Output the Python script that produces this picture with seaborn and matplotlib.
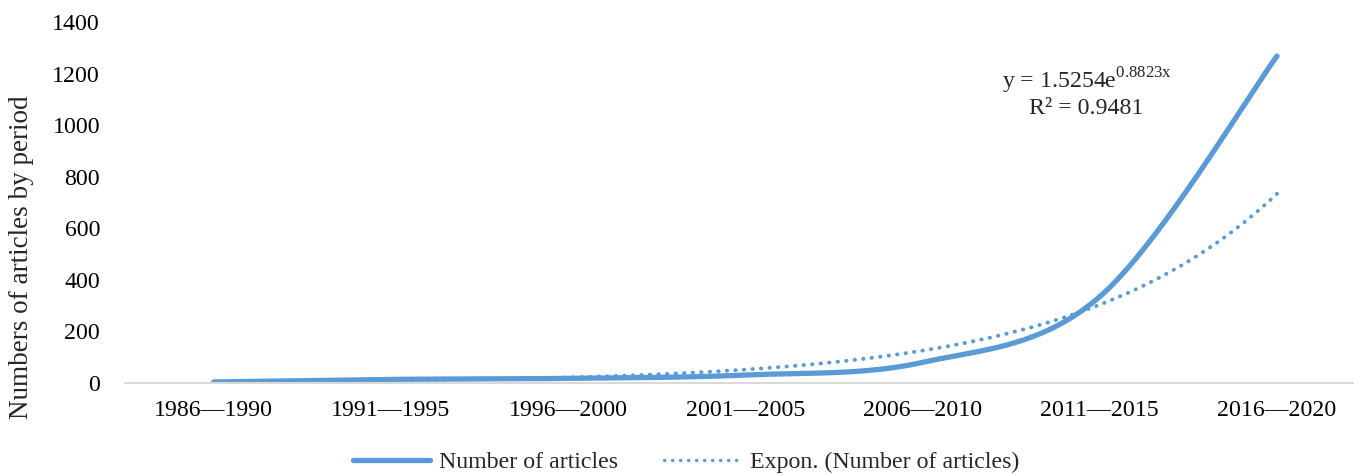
import numpy as np
import pandas as pd
import seaborn as sns
from matplotlib import pyplot as plt
from matplotlib.lines import Line2D

# values
periods = ["1986—1990", "1991—1995", "1996—2000", "2001—2005",
           "2006—2010", "2011—2015", "2016—2020"]
articles = [4, 14, 18, 31, 80, 335, 1268]

# exponential trendline as printed on the chart: y = a * e^(b x)
trend_a = 1.5254
trend_b = 0.8823
trend_r2 = 0.9481

BLUE = "#5B9BD5"
FONT = ["Liberation Serif", "DejaVu Serif"]
FS = 17.2

sns.set_style("white")
plt.rcParams["font.family"] = FONT
plt.rcParams["mathtext.fontset"] = "custom"
plt.rcParams["mathtext.rm"] = "Liberation Serif"


def smooth_path(xs, ys, steps=40):
    # Catmull-Rom style smoothing, similar to a spreadsheet "smoothed line"
    xs = np.asarray(xs, float)
    ys = np.asarray(ys, float)
    px = np.concatenate([[xs[0]], xs, [xs[-1]]])
    py = np.concatenate([[ys[0]], ys, [ys[-1]]])
    out_x, out_y = [], []
    for i in range(1, len(px) - 2):
        p0, p1, p2, p3 = (np.array([px[j], py[j]]) for j in (i - 1, i, i + 1, i + 2))
        c1 = p1 + (p2 - p0) / 6
        c2 = p2 - (p3 - p1) / 6
        t = np.linspace(0, 1, steps, endpoint=(i == len(px) - 3))[:, None]
        pts = ((1 - t) ** 3) * p1 + 3 * ((1 - t) ** 2) * t * c1 + 3 * (1 - t) * t ** 2 * c2 + t ** 3 * p2
        out_x.extend(pts[:, 0])
        out_y.extend(pts[:, 1])
    return np.array(out_x), np.array(out_y)


pos = np.arange(len(periods))
sx, sy = smooth_path(pos, articles)
df_line = pd.DataFrame({"pos": sx, "val": sy})

tx = np.linspace(0, len(periods) - 1, 200)
df_trend = pd.DataFrame({"pos": tx, "val": trend_a * np.exp(trend_b * (tx + 1))})

fig = plt.figure(figsize=(13.54, 4.75), dpi=100)
ax = fig.add_axes([125 / 1354, 1 - 383 / 475, 1229 / 1354, 361 / 475])

sns.lineplot(data=df_trend, x="pos", y="val", ax=ax, color=BLUE, linewidth=2.8,
             sort=False, estimator=None)
ax.lines[-1].set_dashes([0.1, 2.1])
ax.lines[-1].set_dash_capstyle("round")
sns.lineplot(data=df_line, x="pos", y="val", ax=ax, color=BLUE, linewidth=3.8,
             sort=False, estimator=None, solid_capstyle="round")

ax.set_xlim(-0.5, 6 + (1354 - 1277) / 177.3)
ax.set_ylim(0, 1400)
ax.set_yticks(range(0, 1401, 200))
ax.set_xticks(pos)
ax.set_xticklabels(periods)
ax.tick_params(axis="both", length=0, labelsize=FS, colors="black")
ax.tick_params(axis="x", pad=12)
ax.tick_params(axis="y", pad=18)
for s in ["top", "right", "left"]:
    ax.spines[s].set_visible(False)
ax.spines["bottom"].set_color("#D9D9D9")
ax.spines["bottom"].set_linewidth(1.5)
ax.set_xlabel("")
ax.set_ylabel("Numbers of articles by period", fontsize=19.5, va="center")
ax.yaxis.set_label_coords((22 - 125) / 1229, (383 - 257) / 361)

ax.text(1087 / 1354, 1 - 81 / 475, "y = %.4fe$^{\\mathrm{%.4fx}}$" % (trend_a, trend_b),
        transform=fig.transFigure, ha="center", va="center", fontsize=FS)
ax.text(1086 / 1354, 1 - 109 / 475, "R² = %.4f" % trend_r2,
        transform=fig.transFigure, ha="center", va="center", fontsize=FS)

handles = [
    Line2D([], [], color=BLUE, linewidth=3.8, solid_capstyle="round"),
    Line2D([], [], color=BLUE, linewidth=2.4, dashes=[0.1, 2.3], dash_capstyle="round"),
]
fig.legend(handles, ["Number of articles", "Expon. (Number of articles)"],
           loc="center", bbox_to_anchor=(686 / 1354, 1 - 462 / 475), ncol=2,
           frameon=False, fontsize=FS, handlelength=3.2, handletextpad=0.4,
           columnspacing=1.9)

fig.savefig("out.png", dpi=100)
